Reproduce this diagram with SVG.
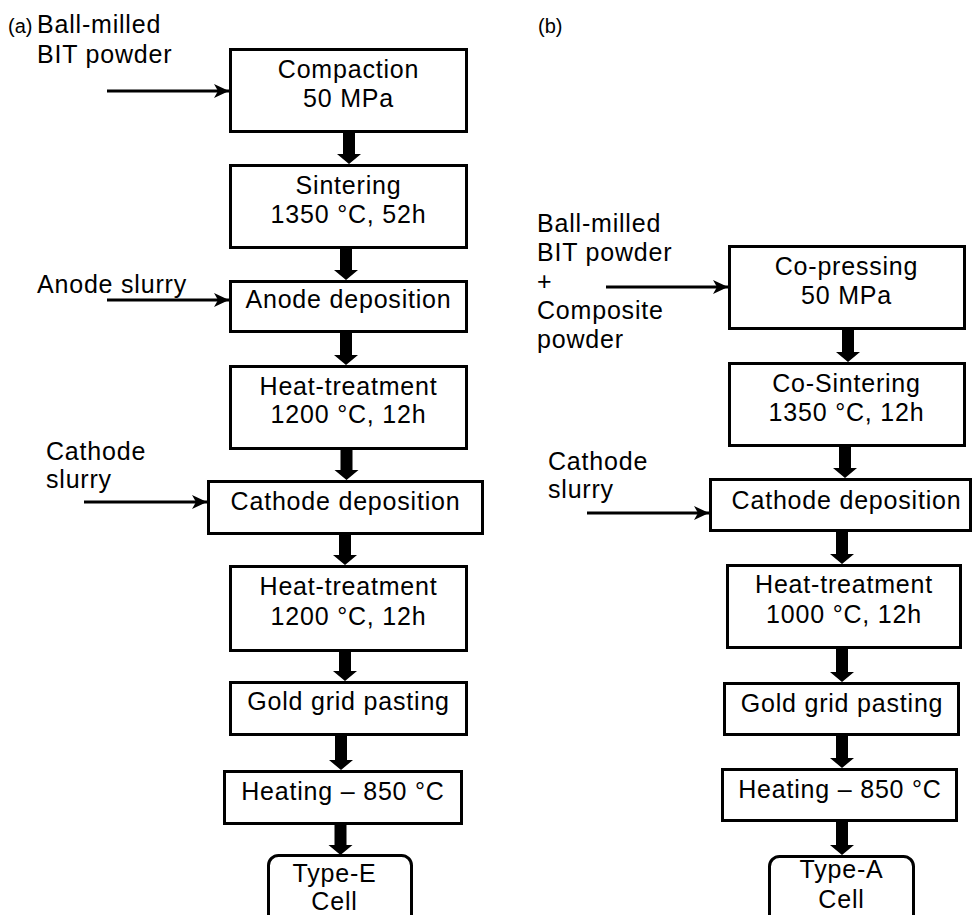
<svg xmlns="http://www.w3.org/2000/svg" width="974" height="915" viewBox="0 0 974 915">
<defs>
<style>
.box{fill:#fff;stroke:#000;stroke-width:3}
.t{font-family:"Liberation Sans",Arial,sans-serif;font-size:25px;letter-spacing:0.8px;fill:#000}
.m{text-anchor:middle}
.p{font-family:"Liberation Sans",Arial,sans-serif;font-size:20px;fill:#000}
.in{stroke:#000;stroke-width:3;fill:none;marker-end:url(#ah)}
.blk{fill:#000}
</style>
<marker id="ah" markerUnits="userSpaceOnUse" markerWidth="16" markerHeight="14" refX="15" refY="7" orient="auto">
<path d="M0,0 L15,7 L0,14 L4,7 z" fill="#000"/>
</marker>
</defs>
<rect width="974" height="915" fill="#fff"/>

<g id="connectors">
<line class="in" x1="107" y1="91" x2="229" y2="91"/>
<line class="in" x1="107" y1="300" x2="229" y2="300"/>
<line class="in" x1="84" y1="502" x2="207" y2="502"/>
<line class="in" x1="606" y1="287" x2="728" y2="287"/>
<line class="in" x1="587" y1="513" x2="709" y2="513"/>
<path class="blk" d="M343,133 h12 v21 h6 l-12,10 l-12,-10 h6 z"/>
<path class="blk" d="M340,249 h12 v21 h6 l-12,10 l-12,-10 h6 z"/>
<path class="blk" d="M340,333 h12 v22 h6 l-12,10 l-12,-10 h6 z"/>
<path class="blk" d="M340.5,450 h12 v20 h6 l-12,10 l-12,-10 h6 z"/>
<path class="blk" d="M339,535 h12 v20 h6 l-12,10 l-12,-10 h6 z"/>
<path class="blk" d="M339,652 h12 v19 h6 l-12,10 l-12,-10 h6 z"/>
<path class="blk" d="M335,736 h12 v24 h6 l-12,10 l-12,-10 h6 z"/>
<path class="blk" d="M334.5,825 h12 v20 h6 l-12,10 l-12,-10 h6 z"/>
<path class="blk" d="M842,330 h12 v22 h6 l-12,10 l-12,-10 h6 z"/>
<path class="blk" d="M839,447 h12 v21 h6 l-12,10 l-12,-10 h6 z"/>
<path class="blk" d="M836,532 h12 v22 h6 l-12,10 l-12,-10 h6 z"/>
<path class="blk" d="M836,649 h12 v23 h6 l-12,10 l-12,-10 h6 z"/>
<path class="blk" d="M836,736 h12 v22 h6 l-12,10 l-12,-10 h6 z"/>
<path class="blk" d="M836,822 h12 v23 h6 l-12,10 l-12,-10 h6 z"/>
</g>

<g id="labels">
<text class="p" x="8" y="33">(a)</text>
<text class="t" x="37" y="33">Ball-milled</text>
<text class="t" x="37" y="63">BIT powder</text>
<text class="t" x="37" y="293">Anode slurry</text>
<text class="t" x="46" y="460">Cathode</text>
<text class="t" x="46" y="488">slurry</text>
<text class="p" x="538" y="33">(b)</text>
<text class="t" x="537" y="232">Ball-milled</text>
<text class="t" x="537" y="261">BIT powder</text>
<text class="t" x="537" y="290">+</text>
<text class="t" x="537" y="319">Composite</text>
<text class="t" x="537" y="348">powder</text>
<text class="t" x="548" y="470">Cathode</text>
<text class="t" x="548" y="498">slurry</text>
</g>

<g id="a-compaction">
<rect class="box" x="230.5" y="49.5" width="236" height="82"/>
<text class="t m" x="348.5" y="78">Compaction</text>
<text class="t m" x="348.5" y="107">50 MPa</text>
</g>
<g id="a-sintering">
<rect class="box" x="230.5" y="165.5" width="236" height="82"/>
<text class="t m" x="348.5" y="194">Sintering</text>
<text class="t m" x="348.5" y="223">1350 °C, 52h</text>
</g>
<g id="a-anode">
<rect class="box" x="230.5" y="281.5" width="236" height="50"/>
<text class="t m" x="348.5" y="308">Anode deposition</text>
</g>
<g id="a-heat1">
<rect class="box" x="230.5" y="366.5" width="236" height="82"/>
<text class="t m" x="348.5" y="395">Heat-treatment</text>
<text class="t m" x="348.5" y="423">1200 °C, 12h</text>
</g>
<g id="a-cathode">
<rect class="box" x="208.5" y="481.5" width="274" height="52"/>
<text class="t m" x="345.5" y="510">Cathode deposition</text>
</g>
<g id="a-heat2">
<rect class="box" x="230.5" y="566.5" width="236" height="84"/>
<text class="t m" x="348.5" y="595">Heat-treatment</text>
<text class="t m" x="348.5" y="625">1200 °C, 12h</text>
</g>
<g id="a-gold">
<rect class="box" x="230.5" y="682.5" width="236" height="52"/>
<text class="t m" x="348.5" y="710">Gold grid pasting</text>
</g>
<g id="a-heating">
<rect class="box" x="224.5" y="771.5" width="237" height="52"/>
<text class="t m" x="343" y="800">Heating – 850 °C</text>
</g>
<g id="a-cell">
<rect class="box" x="268.5" y="855.5" width="143" height="80" rx="10"/>
<text class="t m" x="334.5" y="882">Type-E</text>
<text class="t m" x="334.5" y="910">Cell</text>
</g>

<g id="b-copressing">
<rect class="box" x="729.5" y="246.5" width="235" height="82"/>
<text class="t m" x="846.5" y="275">Co-pressing</text>
<text class="t m" x="846.5" y="304">50 MPa</text>
</g>
<g id="b-cosintering">
<rect class="box" x="729.5" y="363.5" width="235" height="82"/>
<text class="t m" x="846.5" y="392">Co-Sintering</text>
<text class="t m" x="846.5" y="421">1350 °C, 12h</text>
</g>
<g id="b-cathode">
<rect class="box" x="710.5" y="479.5" width="260" height="51"/>
<text class="t m" x="846.5" y="509">Cathode deposition</text>
</g>
<g id="b-heat">
<rect class="box" x="727.5" y="565.5" width="233" height="82"/>
<text class="t m" x="844" y="593">Heat-treatment</text>
<text class="t m" x="844" y="623">1000 °C, 12h</text>
</g>
<g id="b-gold">
<rect class="box" x="724.5" y="683.5" width="234" height="51"/>
<text class="t m" x="842" y="712">Gold grid pasting</text>
</g>
<g id="b-heating">
<rect class="box" x="722.5" y="769.5" width="234" height="51"/>
<text class="t m" x="840" y="798">Heating – 850 °C</text>
</g>
<g id="b-cell">
<rect class="box" x="769.5" y="856.5" width="144" height="80" rx="10"/>
<text class="t m" x="841.5" y="878">Type-A</text>
<text class="t m" x="841.5" y="908">Cell</text>
</g>
</svg>
